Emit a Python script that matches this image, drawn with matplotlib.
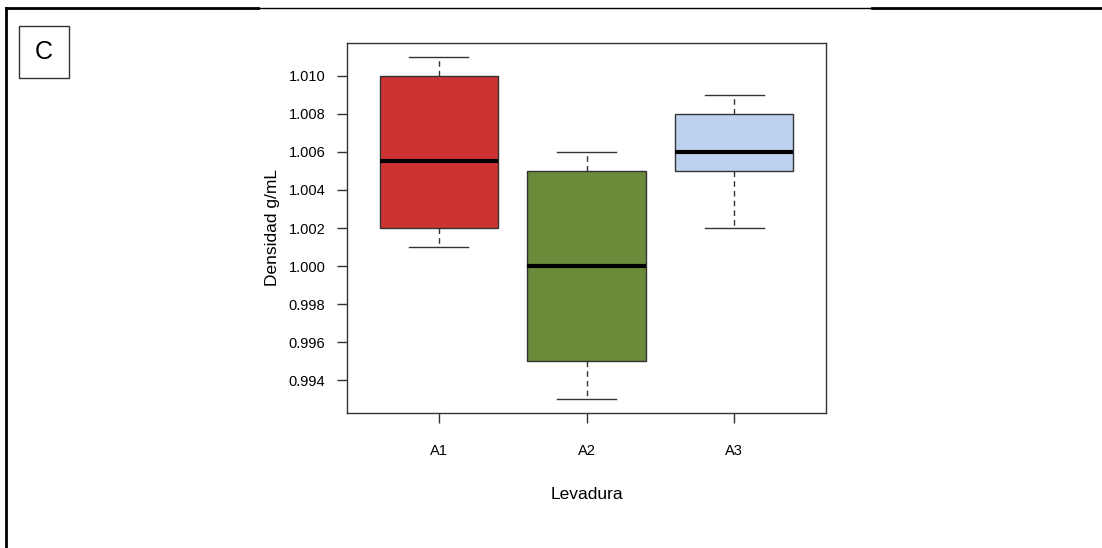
import matplotlib
matplotlib.use("Agg")
import matplotlib.pyplot as plt
from matplotlib.lines import Line2D
from matplotlib.patches import Rectangle

plt.rcParams['font.family'] = ['Liberation Sans', 'DejaVu Sans']

# Densidad por levadura: bigote inferior, Q1, mediana, Q3, bigote superior
levaduras = ['A1', 'A2', 'A3']
bigote_inf = [1.001, 0.993, 1.002]
q1 = [1.002, 0.995, 1.005]
mediana = [1.0055, 1.000, 1.006]
q3 = [1.010, 1.005, 1.008]
bigote_sup = [1.011, 1.006, 1.009]
colores = ['#CD3333', '#6B8B3A', '#BCD2EE']

W, H = 1102, 548
fig = plt.figure(figsize=(W / 100, H / 100), dpi=100)
ax = fig.add_axes([347 / W, 1 - 413 / H, 479 / W, 370 / H])

stats = []
for i, nombre in enumerate(levaduras):
    stats.append({'label': nombre, 'whislo': bigote_inf[i], 'q1': q1[i],
                  'med': mediana[i], 'q3': q3[i], 'whishi': bigote_sup[i]})

edge = '#333333'
bp = ax.bxp(stats, positions=[1, 2, 3], widths=0.8, patch_artist=True,
            showfliers=False,
            boxprops=dict(edgecolor=edge, linewidth=1.0),
            medianprops=dict(color='black', linewidth=3.0, solid_capstyle='butt'),
            whiskerprops=dict(color=edge, linewidth=1.0, linestyle=(0, (4, 3))),
            capprops=dict(color=edge, linewidth=1.0),
            capwidths=0.4)
for caja, c in zip(bp['boxes'], colores):
    caja.set_facecolor(c)

ax.set_xlim(0.38, 3.62)
ax.set_ylim(0.99228, 1.01172)
yt = [0.994, 0.996, 0.998, 1.000, 1.002, 1.004, 1.006, 1.008, 1.010]
ax.set_yticks(yt)
ax.set_yticklabels([f'{v:.3f}' for v in yt])
ax.set_xticks([1, 2, 3])
ax.set_xticklabels(levaduras)

for s in ax.spines.values():
    s.set_color(edge)
    s.set_linewidth(1.0)
ax.tick_params(axis='y', length=7.5, width=1, color=edge, pad=8, labelsize=10.5)
ax.tick_params(axis='x', length=7.5, width=1, color=edge, pad=15, labelsize=10.5)

ax.set_xlabel('Levadura', fontsize=12.5, labelpad=21)
ax.set_ylabel('Densidad g/mL', fontsize=12.5, labelpad=6)

# marco exterior del panel (tramo central del borde superior más fino)
yb = 1 - 8 / H
for x0, x1, lw in [(6, 258, 2), (258, 872, 1), (872, W, 2)]:
    fig.add_artist(Line2D([x0 / W, x1 / W], [yb, yb],
                          transform=fig.transFigure, color='black', linewidth=lw))
fig.add_artist(Line2D([6 / W, 6 / W], [yb, 0.0],
                      transform=fig.transFigure, color='black', linewidth=2))

# etiqueta del panel
fig.add_artist(Rectangle((19 / W, 1 - 78 / H), 50 / W, 52 / H,
                         transform=fig.transFigure, fill=False,
                         edgecolor=edge, linewidth=1))
fig.text(44 / W, 1 - 52 / H, 'C', ha='center', va='center', fontsize=18)

fig.savefig('out.png', dpi=100)
